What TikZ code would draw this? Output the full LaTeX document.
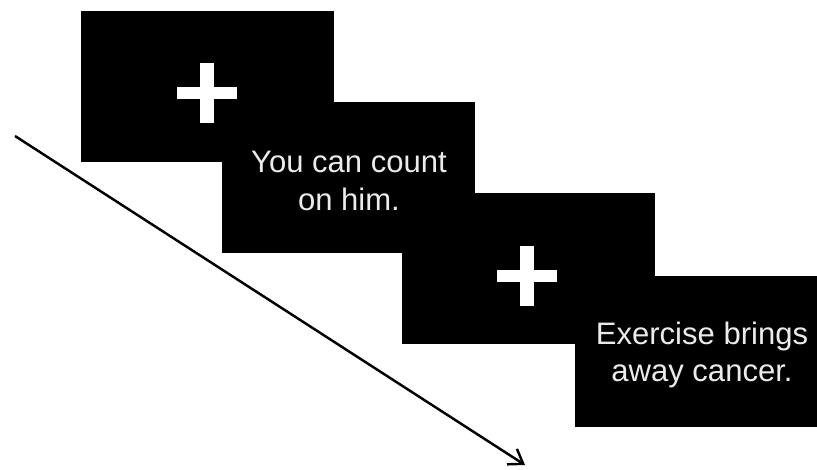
\documentclass[tikz,border=0pt]{standalone}
\usepackage{fontspec}
\setmainfont{Liberation Sans}
\usetikzlibrary{arrows.meta,positioning}

\begin{document}
\begin{tikzpicture}[x=0.03cm, y=-0.03cm,
  screen/.style={fill=black, minimum width=7.59cm, minimum height=4.53cm, inner sep=0pt, outer sep=0pt},
  sentence/.style={text=white!92!black, align=center, inner sep=0pt, font=\fontsize{26.5}{32}\selectfont},
  timeline/.style={line width=2.1pt, -{Straight Barb[length=0.4cm, width=0.55cm, line width=2.1pt]}}]
  \useasboundingbox (0,0) rectangle (817,469);

  % the four screens, back to front
  \node[screen] (screen1) at (207.5,86.5) {};
  \coordinate (fix1) at (207,93);
  \fill[white] (fix1) ++(-30,-6) rectangle ++(60,12);
  \fill[white] (fix1) ++(-7,-30) rectangle ++(14,60);

  \node[screen] (screen2) at (348.5,177.5) {};
  \node[sentence] (sent1) at (349,181) {You can count\\on him.};

  \node[screen] (screen3) at (528,268.5) {};
  \coordinate (fix2) at (527,276);
  \fill[white] (fix2) ++(-30,-6) rectangle ++(60,12);
  \fill[white] (fix2) ++(-7,-30) rectangle ++(14,60);

  \node[screen] (screen4) at (701.5,351.5) {};
  \node[sentence] (sent2) at (702,355) {Exercise brings\\away cancer.};

  % time axis
  \coordinate (tstart) at (15,136);
  \coordinate (tend) at (525,465);
  \draw[timeline] (tstart) -- (tend);
\end{tikzpicture}
\end{document}
